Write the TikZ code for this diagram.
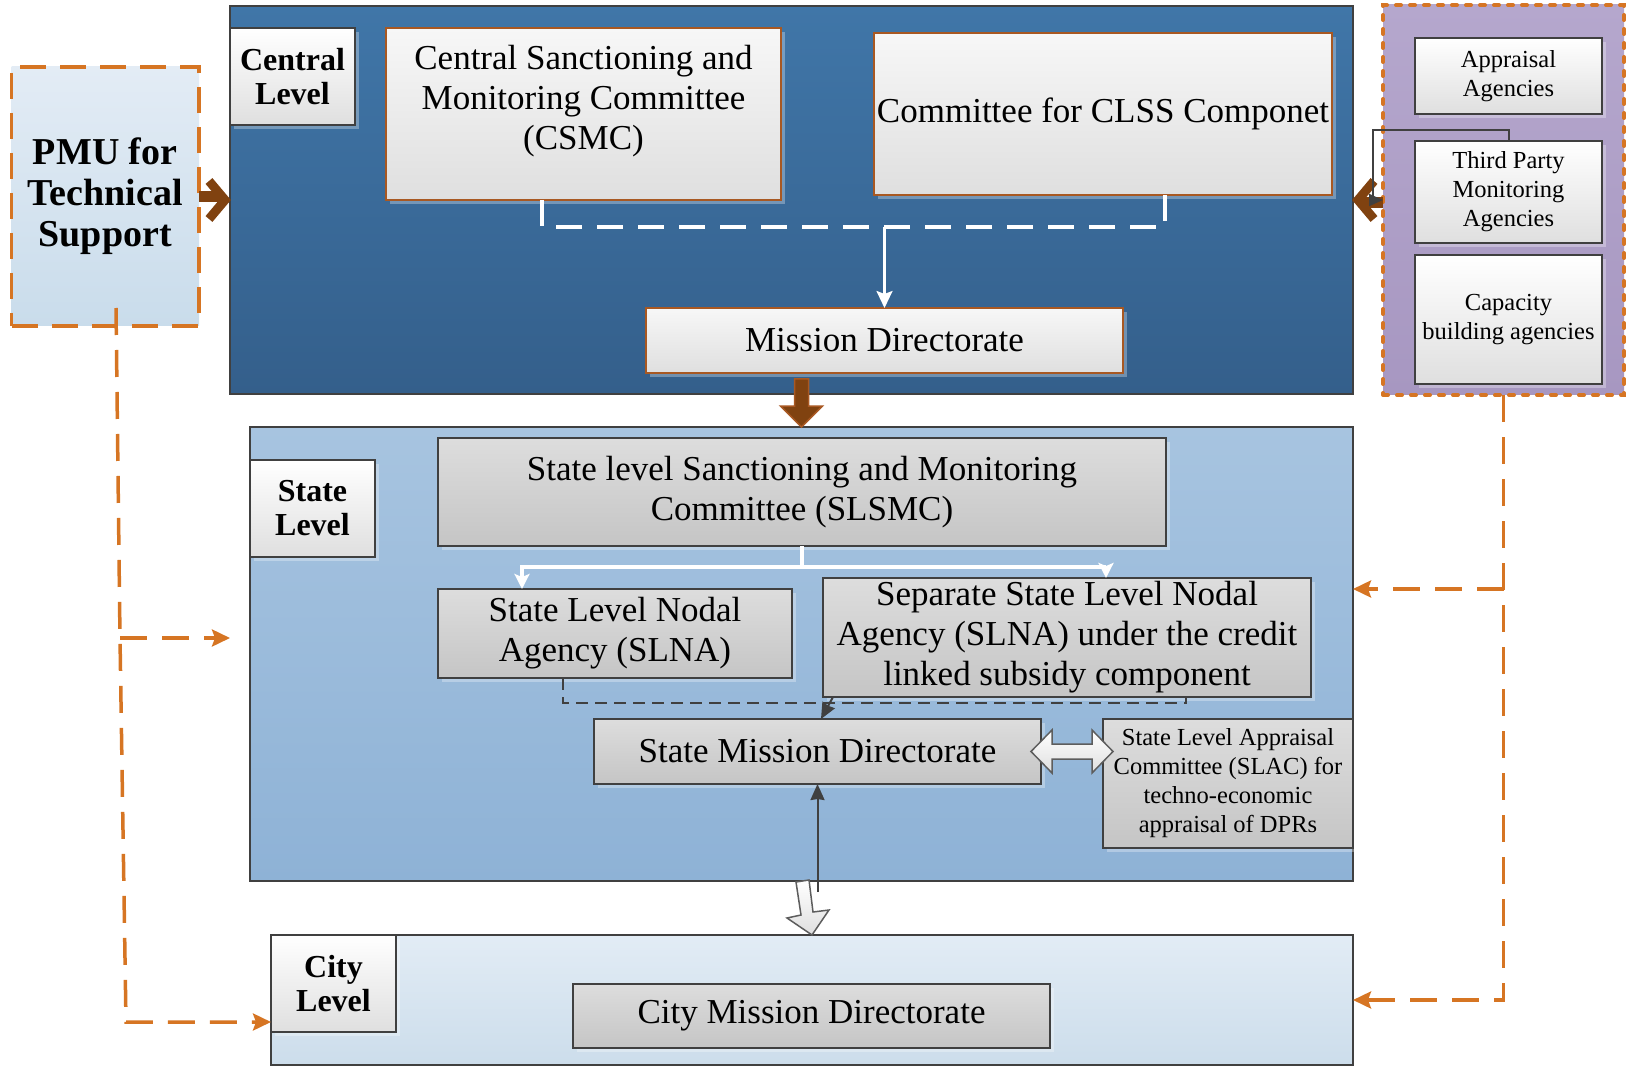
\documentclass[tikz,border=0pt]{standalone}
\usepackage{fontspec}
\setmainfont{Liberation Serif}
\usetikzlibrary{arrows.meta,shadows,calc}

\definecolor{cenTop}{RGB}{64,118,168}
\definecolor{cenBot}{RGB}{52,95,139}
\definecolor{staTop}{RGB}{167,196,224}
\definecolor{staBot}{RGB}{142,178,214}
\definecolor{citTop}{RGB}{226,236,245}
\definecolor{citBot}{RGB}{204,221,235}
\definecolor{pmuTop}{RGB}{227,236,245}
\definecolor{pmuBot}{RGB}{201,220,235}
\definecolor{purpTop}{RGB}{181,167,205}
\definecolor{purpBot}{RGB}{167,151,193}
\definecolor{orangeL}{RGB}{214,117,35}
\definecolor{brownA}{RGB}{128,66,16}
\definecolor{brownB}{RGB}{168,88,34}
\definecolor{edgeC}{RGB}{64,64,64}
\definecolor{grayTop}{RGB}{221,221,221}
\definecolor{grayBot}{RGB}{197,197,197}
\definecolor{lightTop}{RGB}{247,247,247}
\definecolor{lightBot}{RGB}{223,223,223}

\newcommand\fmainx{\fontsize{35}{40}\selectfont}
\newcommand\fboldx{\bfseries\fontsize{32}{34}\selectfont}
\newcommand\fpmux{\bfseries\fontsize{38}{41}\selectfont}
\newcommand\fsmallx{\fontsize{24.5}{29}\selectfont}

\tikzset{
  panel/.style={draw=edgeC, line width=2pt, inner sep=0pt, outer sep=0pt},
  boxbase/.style={inner sep=0pt, outer sep=0pt, align=center,
    drop shadow={shadow xshift=4pt, shadow yshift=-4pt, fill=white, opacity=0.3}},
  lightbox/.style={boxbase, draw=brownB, line width=1.8pt, top color=lightTop, bottom color=lightBot, font=\fmainx},
  graybox/.style={boxbase, draw=edgeC, line width=1.6pt, top color=grayTop, bottom color=grayBot, font=\fmainx},
  lvlbox/.style={boxbase, draw=edgeC, line width=1.6pt, top color=white, bottom color=lightBot, font=\fboldx},
  agbox/.style={boxbase, draw=edgeC, line width=1.6pt, top color=white, bottom color=lightBot, font=\fsmallx},
  txt/.style={inner sep=0pt, align=center},
  wdash/.style={draw=white, line width=4pt, dash pattern=on 26pt off 15pt},
  warrow/.style={draw=white, line width=2.5pt, -{Stealth[length=17pt,width=16pt,inset=3pt]}},
  wthick/.style={draw=white, line width=4pt, -{Stealth[length=15pt,width=15pt,inset=3pt]}},
  odash/.style={draw=orangeL, line width=3.5pt, dash pattern=on 27pt off 15pt},
  oarrow/.style={-{Stealth[length=18pt,width=17pt,inset=3pt]}},
  ddash/.style={draw=edgeC, line width=1.5pt, dash pattern=on 12pt off 7pt},
  darrow/.style={draw=edgeC, line width=2pt, -{Stealth[length=16pt,width=14pt,inset=1pt]}},
  chev/.style={draw=brownA, line width=9pt, line join=miter},
  chevshaft/.style={draw=brownA, line width=11pt},
  brownblock/.style={fill=brownA, draw=brownB, line width=1.5pt, line join=miter},
  wblock/.style={draw=edgeC!85, line width=1.5pt, top color=white, bottom color=lightBot, line join=miter},
  gconn/.style={draw=edgeC, line width=2pt, -{Triangle[length=14pt,width=12pt]}}
}

\begin{document}
\begin{tikzpicture}[x=1pt,y=-1pt]
\useasboundingbox (0,0) rectangle (1634,1067);

% ---------- panels ----------
\node[panel, minimum width=1123, minimum height=388, top color=cenTop, bottom color=cenBot] (central) at (791.5,200) {};
\node[panel, minimum width=1103, minimum height=454, top color=staTop, bottom color=staBot] (state) at (801.5,654) {};
\node[panel, minimum width=1082, minimum height=130, top color=citTop, bottom color=citBot] (city) at (812,1000) {};
\node[inner sep=0pt, outer sep=0pt, draw=orangeL, line width=3.5pt, dash pattern=on 26pt off 14pt,
      top color=pmuTop, bottom color=pmuBot, minimum width=187.5, minimum height=259,
      align=center, font=\fpmux] (pmu) at (105.25,196.5) {PMU for\\Technical\\Support};
\node[inner sep=0pt, outer sep=0pt, draw=orangeL, line width=4pt, dash pattern=on 5pt off 9pt, line cap=round,
      top color=purpTop, bottom color=purpBot, minimum width=241, minimum height=390] (purple) at (1503.5,200) {};

% ---------- central level ----------
\node[lvlbox, minimum width=125, minimum height=97] (clevel) at (292.5,76.5) {Central\\Level};
\node[lightbox, minimum width=395, minimum height=172] (csmc) at (583.5,114) {};
\node[txt, font=\fmainx] (csmct) at (583.5,101) {Central Sanctioning and\\Monitoring Committee\\(CSMC)};
\node[lightbox, minimum width=458, minimum height=162] (clss) at (1103,114) {Committee for CLSS Componet};
\node[lightbox, minimum width=477, minimum height=65] (md) at (884.5,340.5) {Mission Directorate};

% ---------- agencies ----------
\node[agbox, minimum width=187, minimum height=76] (app) at (1508.5,76) {Appraisal\\Agencies};
\node[agbox, minimum width=187, minimum height=102] (tpm) at (1508.5,192) {Third Party\\Monitoring\\Agencies};
\node[agbox, minimum width=187, minimum height=129] (cap) at (1508.5,319.5) {Capacity\\building agencies};

% ---------- state level ----------
\node[lvlbox, minimum width=125, minimum height=97] (slevel) at (312.5,508.5) {State\\Level};
\node[graybox, minimum width=728, minimum height=108] (slsmc) at (802,492) {State level Sanctioning and Monitoring\\Committee (SLSMC)};
\node[graybox, minimum width=354, minimum height=89] (slna) at (615,633.5) {State Level Nodal\\Agency (SLNA)};
\node[graybox, minimum width=488, minimum height=119] (sep) at (1067,637.5) {Separate State Level Nodal\\Agency (SLNA) under the credit\\linked subsidy component};
\node[graybox, minimum width=447, minimum height=65] (smd) at (817.5,751.5) {State Mission Directorate};
\node[graybox, minimum width=250, minimum height=129, font=\fsmallx] (slac) at (1228,783.5) {State Level Appraisal\\Committee (SLAC) for\\techno-economic\\appraisal of DPRs};

% ---------- city level ----------
\node[lvlbox, minimum width=125, minimum height=97] (cylevel) at (333.5,983.5) {City\\Level};
\node[graybox, minimum width=477, minimum height=64] (cmd) at (811.5,1016) {City Mission Directorate};

% ---------- connectors: central ----------
\coordinate (j1) at (884.5,227);
\draw[wdash] ([xshift=156pt]csmc.south west) |- (j1) -| ([xshift=-167pt]clss.south east);
\draw[warrow] (j1) -- (md.north);
\draw[brownblock] (state.north) -- ++(-21,-21) -- ++(14,0) -- ++(0,-27) -- ++(14,0) -- ++(0,27) -- ++(14,0) -- cycle;

% PMU chevron
\draw[chevshaft] (pmu.east) -- ++(22,0);
\draw[chev] ([xshift=-21pt,yshift=19pt]central.west) -- ++(16,19) -- ++(-16,19);
% purple chevron
\draw[chevshaft] ([yshift=-3pt]purple.west) -- ++(-24,0);
\draw[chev] ([xshift=21pt,yshift=19pt]central.east) -- ++(-16,19) -- ++(16,19);
\draw[gconn] (tpm.north) -- ++(0,-11) -| ([xshift=-10pt]purple.west) -- (purple.west);

% ---------- connectors: state ----------
\coordinate (k1) at (802,567);
\draw[draw=white, line width=4pt] (slsmc.south) -- (k1);
\draw[wthick] (k1) -| ([xshift=84pt]slna.north west);
\draw[wthick] (k1) -| ([xshift=283pt]sep.north west);
\draw[ddash] ([xshift=125pt]slna.south west) -- ++(0,25) -| ([xshift=363pt]sep.south west);
\draw[darrow] ([xshift=10pt]sep.south west) -- ([xshift=227pt]smd.north west);
\draw[wblock] ([xshift=-10pt]smd.east) -- ++(21,-21.5) -- ++(0,14) -- ++(40,0) -- ++(0,-14) -- ++(21,21.5)
   -- ++(-21,21.5) -- ++(0,-14) -- ++(-40,0) -- ++(0,14) -- cycle;

% state -> city
\draw[wblock] (city.north) -- ++(-25,-17) -- ++(14,-3) -- ++(-5,-33) -- ++(13,-2) -- ++(4,32) -- ++(16,-2) -- cycle;
\draw[darrow] ([yshift=-108pt]smd.south) -- (smd.south);

% ---------- orange dashed connectors ----------
\coordinate (pa) at (116,308);
\coordinate (pb) at (120,638);
\coordinate (pc) at (126,1022);
\coordinate (ptip) at (230,638);
\draw[odash, oarrow] (pa) -- (pb) -- (pc) -- (pc -| city.west);
\draw[odash, oarrow] (pb) -- (ptip);

\coordinate (qb) at (1503.5,589);
\coordinate (qc) at (1503.5,1000);
\draw[odash, oarrow] (purple.south) -- (qc) -- (qc -| city.east);
\draw[odash, oarrow] (qb) -- (qb -| state.east);

\end{tikzpicture}
\end{document}
